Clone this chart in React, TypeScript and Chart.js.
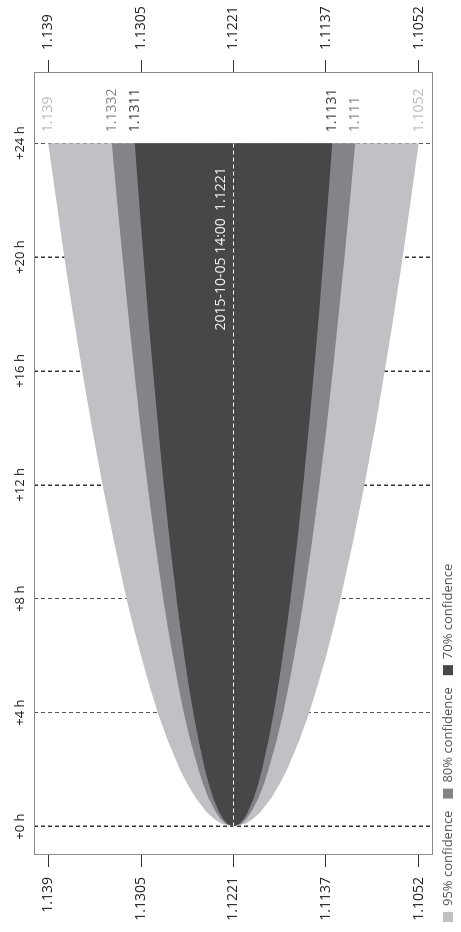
import { useEffect, useRef } from "react";
import { Chart, registerables } from "chart.js";

Chart.register(...registerables);

// ---- data ----
const HOURS = [0, 0.1, 0.25, 0.5, 1, 1.5, 2, 3, 4, 5, 6, 7, 8, 10, 12, 14, 16, 18, 20, 22, 24];
const CENTER = 1.1221;
const FORECAST_TIME = "2015-10-05 14:00";

const UPPER_95 = [1.1221, 1.12319, 1.12382, 1.12454, 1.12555, 1.12633, 1.12698, 1.12808, 1.129, 1.12981, 1.13055, 1.13123, 1.13186, 1.13301, 1.13405, 1.13501, 1.1359, 1.13674, 1.13753, 1.13828, 1.139];
const LOWER_95 = [1.1221, 1.12101, 1.12038, 1.11966, 1.11865, 1.11787, 1.11722, 1.11612, 1.1152, 1.11439, 1.11365, 1.11297, 1.11234, 1.11119, 1.11015, 1.10919, 1.1083, 1.10746, 1.10667, 1.10592, 1.1052];
const UPPER_80 = [1.1221, 1.12282, 1.12323, 1.1237, 1.12437, 1.12488, 1.1253, 1.12602, 1.12663, 1.12717, 1.12765, 1.12809, 1.12851, 1.12927, 1.12995, 1.13058, 1.13116, 1.13171, 1.13223, 1.13273, 1.1332];
const LOWER_80 = [1.1221, 1.12138, 1.12097, 1.1205, 1.11983, 1.11932, 1.1189, 1.11818, 1.11757, 1.11703, 1.11655, 1.11611, 1.11569, 1.11493, 1.11425, 1.11362, 1.11304, 1.11249, 1.11197, 1.11147, 1.111];
const UPPER_70 = [1.1221, 1.12268, 1.12302, 1.1234, 1.12394, 1.12435, 1.1247, 1.12528, 1.12577, 1.12621, 1.1266, 1.12696, 1.1273, 1.12791, 1.12846, 1.12897, 1.12945, 1.12989, 1.13032, 1.13072, 1.1311];
const LOWER_70 = [1.1221, 1.12152, 1.12118, 1.1208, 1.12026, 1.11985, 1.1195, 1.11892, 1.11843, 1.11799, 1.1176, 1.11724, 1.1169, 1.11629, 1.11574, 1.11523, 1.11475, 1.11431, 1.11388, 1.11348, 1.1131];

const TIME_TICKS = [0, 4, 8, 12, 16, 20, 24];
const STRONG_TIME_TICKS = [0, 12, 16, 20];
const PRICE_TICKS = [1.139, 1.1305, 1.1221, 1.1137, 1.1052];
const END_LABELS = ["1.139", "1.1332", "1.1311", "1.1131", "1.111", "1.1052"];
const END_VALUES = [1.139, 1.1332, 1.1311, 1.1131, 1.111, 1.1052];
const LEGEND_LABELS = ["95% confidence", "80% confidence", "70% confidence"];

// ---- styles ----
const C95 = "#c0c1c4";
const C80 = "#838487";
const C70 = "#464749";
const END_COLORS = ["#b9babd", "#86878a", "#3c3d3f", "#3c3d3f", "#86878a", "#b9babd"];
const FONT = "'Open Sans', sans-serif";

const pts = (arr: number[]) => HOURS.map((h, i) => ({ x: h, y: arr[i] }));

const band = (label: string, data: number[], color: string, fill: any) => ({
  label,
  data: pts(data),
  borderWidth: 0,
  borderColor: color,
  backgroundColor: color,
  pointRadius: 0,
  fill,
  tension: 0,
});

const boxPlugin = {
  id: "boxPlugin",
  beforeDraw(chart: any) {
    const { ctx, width, height } = chart;
    ctx.save();
    ctx.fillStyle = "#ffffff";
    ctx.fillRect(0, 0, width, height);
    ctx.restore();
  },
  afterDatasetsDraw(chart: any) {
    const { ctx, scales } = chart;
    const xs = scales.x;
    const ys = scales.y;
    ctx.save();
    ctx.font = `14px ${FONT}`;
    ctx.textBaseline = "middle";
    ctx.textAlign = "left";
    const x24 = xs.getPixelForValue(24);
    END_VALUES.forEach((v, i) => {
      ctx.fillStyle = END_COLORS[i];
      ctx.fillText(END_LABELS[i], x24 + 11, ys.getPixelForValue(v));
    });
    ctx.fillStyle = "#f0f0f0";
    ctx.textAlign = "right";
    ctx.textBaseline = "alphabetic";
    ctx.fillText(`${FORECAST_TIME}  ${CENTER}`, x24 - 24, ys.getPixelForValue(CENTER) - 9);
    ctx.restore();
  },
  afterDraw(chart: any) {
    const { ctx, chartArea } = chart;
    ctx.save();
    ctx.strokeStyle = "#8a8a8a";
    ctx.lineWidth = 1;
    ctx.strokeRect(
      Math.round(chartArea.left) + 0.5,
      Math.round(chartArea.top) + 0.5,
      Math.round(chartArea.right - chartArea.left) - 1,
      Math.round(chartArea.bottom - chartArea.top) - 1
    );
    // legend
    const colors = [C95, C80, C70];
    ctx.font = `13px ${FONT}`;
    ctx.textBaseline = "middle";
    ctx.textAlign = "left";
    let x = 10;
    const yc = 448;
    LEGEND_LABELS.forEach((t, i) => {
      ctx.fillStyle = colors[i];
      ctx.fillRect(x, yc - 5, 10, 10);
      ctx.fillStyle = "#555555";
      ctx.fillText(t, x + 16, yc);
      x += 16 + ctx.measureText(t).width + 12;
    });
    ctx.restore();
  },
};

export default function App() {
  const ref = useRef<HTMLCanvasElement>(null);
  useEffect(() => {
    Chart.defaults.font.family = FONT;
    const priceAxis = (position: "left" | "right", width: number) => ({
      type: "linear" as const,
      position,
      min: 1.1039,
      max: 1.1403,
      afterBuildTicks: (s: any) => {
        s.ticks = PRICE_TICKS.map((v) => ({ value: v }));
      },
      afterFit: (s: any) => {
        s.width = width;
      },
      ticks: {
        padding: 10,
        color: "#222222",
        font: { size: 14, family: FONT },
        callback: (v: any) => String(v),
      },
      grid: {
        drawOnChartArea: false,
        drawTicks: true,
        tickLength: 12,
        color: "#333333",
        lineWidth: 1,
      },
      border: { display: false },
    });
    const chart = new Chart(ref.current!, {
      type: "line",
      data: {
        datasets: [
          band(LEGEND_LABELS[2], UPPER_70, C70, "+1"),
          band("70 low", LOWER_70, C70, false),
          band(LEGEND_LABELS[1], UPPER_80, C80, "+1"),
          band("80 low", LOWER_80, C80, false),
          band(LEGEND_LABELS[0], UPPER_95, C95, "+1"),
          band("95 low", LOWER_95, C95, false),
          {
            label: "center",
            data: [
              { x: HOURS[0], y: CENTER },
              { x: HOURS[HOURS.length - 1], y: CENTER },
            ],
            borderColor: "#ffffff",
            borderWidth: 1,
            borderDash: [4, 3],
            pointRadius: 0,
            fill: false,
            order: -1,
          } as any,
        ],
      },
      options: {
        animation: false,
        responsive: false,
        devicePixelRatio: 1,
        layout: { padding: { left: 0, right: 0, top: 0, bottom: 28 } },
        plugins: {
          legend: { display: false },
          tooltip: { enabled: false },
          filler: { drawTime: "beforeDatasetsDraw" } as any,
        },
        scales: {
          x: {
            type: "linear",
            position: "top",
            min: -1,
            max: 26.5,
            z: 1,
            afterBuildTicks: (s: any) => {
              s.ticks = TIME_TICKS.map((v) => ({ value: v }));
            },
            afterFit: (s: any) => {
              s.height = 34;
            },
            ticks: {
              padding: 6,
              color: "#222222",
              font: { size: 13, family: FONT },
              maxRotation: 0,
              callback: (v: any) => `+${v} h`,
            },
            grid: {
              drawTicks: false,
              color: (c: any) => (STRONG_TIME_TICKS.includes(c.tick?.value) ? "#333333" : "#555555"),
              lineWidth: (c: any) => (STRONG_TIME_TICKS.includes(c.tick?.value) ? 1.5 : 1),
            },
            border: { display: false, dash: [4, 3] },
          },
          y: priceAxis("left", 77) as any,
          y2: priceAxis("right", 72) as any,
        },
      },
      plugins: [boxPlugin],
    });
    return () => chart.destroy();
  }, []);

  return (
    <div
      style={{
        position: "fixed",
        left: 0,
        top: 0,
        width: 461,
        height: 932,
        overflow: "hidden",
        background: "#ffffff",
      }}
    >
      <div
        style={{
          position: "absolute",
          left: 0,
          top: 0,
          width: 932,
          height: 461,
          transformOrigin: "0 0",
          transform: "translate(0px, 932px) rotate(-90deg)",
        }}
      >
        <canvas ref={ref} width={932} height={461} style={{ width: 932, height: 461, display: "block" }} />
      </div>
    </div>
  );
}
